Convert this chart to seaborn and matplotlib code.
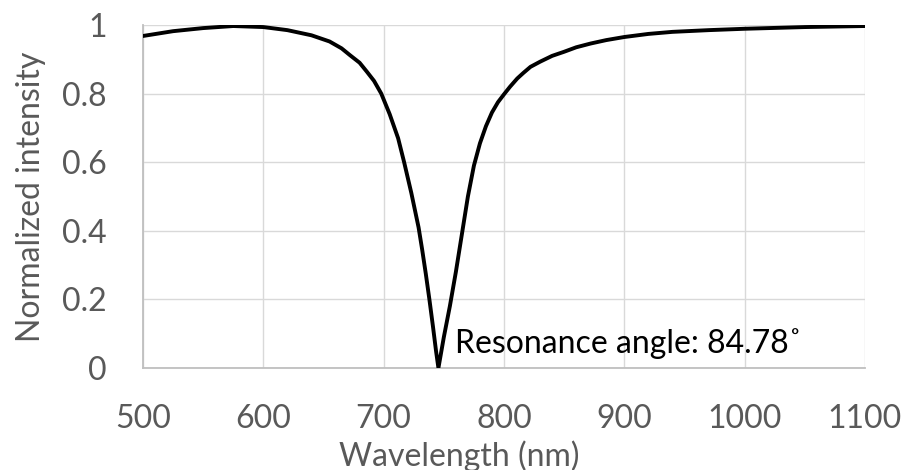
import pandas as pd
import matplotlib
matplotlib.use("Agg")
import matplotlib.pyplot as plt
import seaborn as sns

# values
wavelength = [500, 525, 550, 575, 600, 620, 640, 655, 665, 672, 680, 686, 692, 698,
              705, 712, 717, 720, 723, 726, 729, 732, 735, 738, 741, 743.5, 745.5,
              748, 750, 752.5, 755, 757.5, 760, 762.5, 765, 767.5, 770, 775, 780,
              785, 790, 795, 800, 805, 811, 816, 822, 830, 840, 850, 860, 872, 885,
              900, 920, 940, 970, 1000, 1050, 1100]
intensity = [0.968, 0.982, 0.991, 0.997, 0.994, 0.985, 0.970, 0.952, 0.932, 0.912,
             0.89, 0.864, 0.837, 0.80, 0.74, 0.67, 0.60, 0.555, 0.51, 0.46, 0.41,
             0.345, 0.275, 0.20, 0.12, 0.05, 0.0, 0.05, 0.09, 0.135, 0.18, 0.23,
             0.28, 0.335, 0.39, 0.445, 0.50, 0.59, 0.655, 0.705, 0.745, 0.775,
             0.798, 0.82, 0.844, 0.86, 0.878, 0.893, 0.91, 0.922, 0.935, 0.946,
             0.956, 0.965, 0.974, 0.98, 0.985, 0.989, 0.994, 0.997]
x_ticks = [500, 600, 700, 800, 900, 1000, 1100]
y_ticks = [0, 0.2, 0.4, 0.6, 0.8, 1]
y_tick_labels = ["0", "0.2", "0.4", "0.6", "0.8", "1"]
note = "Resonance angle: 84.78\u02da"

df = pd.DataFrame({"wavelength": wavelength, "intensity": intensity})

sns.set_style("white")
plt.rcParams["font.family"] = ["Lato", "DejaVu Sans"]

fig = plt.figure(figsize=(9.08, 4.70), dpi=100)
ax = fig.add_axes([143 / 908, 102 / 470, 722 / 908, 343 / 470])

sns.lineplot(data=df, x="wavelength", y="intensity", color="black",
             linewidth=2.8, ax=ax, zorder=3)

ax.set_xlim(500, 1100)
ax.set_ylim(0, 1)
ax.set_xticks(x_ticks)
ax.set_yticks(y_ticks)
ax.set_yticklabels(y_tick_labels)
ax.grid(True, color="#d9d9d9", linewidth=1.0)
ax.set_axisbelow(True)

for side in ["top", "right"]:
    ax.spines[side].set_visible(False)
for side in ["left", "bottom"]:
    ax.spines[side].set_color("#bfbfbf")
    ax.spines[side].set_linewidth(1.3)

ax.tick_params(axis="both", length=0, labelsize=23, labelcolor="#595959")
ax.tick_params(axis="y", pad=26)
ax.tick_params(axis="x", pad=26)

ax.set_xlabel("Wavelength (nm)", fontsize=23, color="#595959")
ax.set_ylabel("Normalized intensity", fontsize=23, color="#595959")
ax.xaxis.set_label_coords((459 - 143) / 722, -0.21)
ax.yaxis.set_label_coords(-0.135, 0.5)

ax.text(759, 0.045, note, fontsize=23, color="black", ha="left", va="baseline")

fig.savefig("out.png", dpi=100)
